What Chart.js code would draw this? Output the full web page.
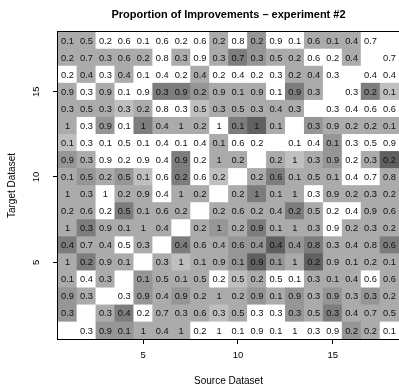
<!DOCTYPE html>
<html>
<head>
<meta charset="utf-8">
<script src="https://cdn.jsdelivr.net/npm/chart.js@4/dist/chart.umd.min.js"></script>
<style>
  html, body { margin: 0; padding: 0; background: #ffffff; }
  #c { display: block; }
</style>
</head>
<body>
<canvas id="c" width="399" height="390"></canvas>
<script>
// Source datasets along x, target datasets along y
const sourceLabels = ['1','2','3','4','5','6','7','8','9','10','11','12','13','14','15','16','17','18'];
const xTickLabels = ['5', '10', '15'];
const yTickValues = [5, 10, 15];
const yTickLabels = ['5', '10', '15'];

// Proportion of improvements, one array per target dataset (sources 1..18); null = same dataset
const target01 = [null,0.3,0.9,0.1,1,0.4,1,0.2,1,0.1,0.9,0.1,1,0.3,0.9,0.2,0.2,0.1];
const target02 = [0.3,null,0.3,0.4,0.2,0.7,0.3,0.6,0.3,0.5,0.3,0.3,0.3,0.5,0.3,0.4,0.7,0.5];
const target03 = [0.9,0.3,null,0.3,0.9,0.4,0.9,0.2,1,0.2,0.9,0.1,0.9,0.3,0.9,0.3,0.3,0.2];
const target04 = [0.1,0.4,0.3,null,0.1,0.5,0.1,0.5,0.2,0.5,0.2,0.5,0.1,0.3,0.1,0.4,0.6,0.6];
const target05 = [1,0.2,0.9,0.1,null,0.3,1,0.1,0.9,0.1,0.9,0.1,1,0.2,0.9,0.1,0.2,0.1];
const target06 = [0.4,0.7,0.4,0.5,0.3,null,0.4,0.6,0.4,0.6,0.4,0.4,0.4,0.8,0.3,0.4,0.8,0.6];
const target07 = [1,0.3,0.9,0.1,1,0.4,null,0.2,1,0.2,0.9,0.1,1,0.3,0.9,0.2,0.3,0.2];
const target08 = [0.2,0.6,0.2,0.5,0.1,0.6,0.2,null,0.2,0.6,0.2,0.4,0.2,0.5,0.2,0.4,0.9,0.6];
const target09 = [1,0.3,1,0.2,0.9,0.4,1,0.2,null,0.2,1,0.1,1,0.3,0.9,0.2,0.3,0.2];
const target10 = [0.1,0.5,0.2,0.5,0.1,0.6,0.2,0.6,0.2,null,0.2,0.6,0.1,0.5,0.1,0.4,0.7,0.8];
const target11 = [0.9,0.3,0.9,0.2,0.9,0.4,0.9,0.2,1,0.2,null,0.2,1,0.3,0.9,0.2,0.3,0.2];
const target12 = [0.1,0.3,0.1,0.5,0.1,0.4,0.1,0.4,0.1,0.6,0.2,null,0.1,0.4,0.1,0.3,0.5,0.9];
const target13 = [1,0.3,0.9,0.1,1,0.4,1,0.2,1,0.1,1,0.1,null,0.3,0.9,0.2,0.2,0.1];
const target14 = [0.3,0.5,0.3,0.3,0.2,0.8,0.3,0.5,0.3,0.5,0.3,0.4,0.3,null,0.3,0.4,0.6,0.6];
const target15 = [0.9,0.3,0.9,0.1,0.9,0.3,0.9,0.2,0.9,0.1,0.9,0.1,0.9,0.3,null,0.3,0.2,0.1];
const target16 = [0.2,0.4,0.3,0.4,0.1,0.4,0.2,0.4,0.2,0.4,0.2,0.3,0.2,0.4,0.3,null,0.4,0.4];
const target17 = [0.2,0.7,0.3,0.6,0.2,0.8,0.3,0.9,0.3,0.7,0.3,0.5,0.2,0.6,0.2,0.4,null,0.7];
const target18 = [0.1,0.5,0.2,0.6,0.1,0.6,0.2,0.6,0.2,0.8,0.2,0.9,0.1,0.6,0.1,0.4,0.7,null];

// Cell shading level per target dataset (0 = white ... 5 = darkest grey)
const shade01 = [0,0,3,3,2,2,2,0,0,0,0,0,0,0,0,3,2,0];
const shade02 = [3,0,2,4,0,2,2,2,1,2,0,0,3,2,4,2,2,2];
const shade03 = [3,2,0,0,3,2,3,2,2,2,3,2,3,2,3,2,3,2];
const shade04 = [2,0,2,0,3,2,2,2,0,1,2,0,0,2,2,2,0,2];
const shade05 = [2,4,2,2,0,2,1,2,2,3,5,3,2,5,2,2,2,2];
const shade06 = [4,2,2,0,2,0,4,2,2,3,3,5,3,4,2,2,2,4];
const shade07 = [2,4,2,2,2,2,0,2,3,2,4,2,2,2,0,2,2,2];
const shade08 = [2,2,0,4,2,2,2,0,2,2,2,2,4,2,0,0,2,2];
const shade09 = [2,2,0,2,2,0,2,2,0,2,4,2,2,0,2,2,2,2];
const shade10 = [2,3,2,3,1,0,4,0,1,0,2,4,2,2,2,0,0,2];
const shade11 = [3,2,0,0,0,0,4,0,2,2,0,2,1,2,3,0,2,5];
const shade12 = [1,0,0,0,0,0,0,0,2,0,0,0,0,0,3,0,0,0];
const shade13 = [2,0,3,0,4,2,2,2,0,4,5,2,0,3,2,2,2,2];
const shade14 = [2,2,2,1,2,0,0,1,2,2,2,2,2,0,0,0,0,0];
const shade15 = [2,0,2,0,0,4,4,3,2,2,2,0,4,2,0,0,4,1];
const shade16 = [0,2,0,2,0,0,0,2,0,0,0,0,2,2,0,0,0,0];
const shade17 = [2,2,2,2,2,0,2,0,2,4,3,2,2,0,0,2,0,0];
const shade18 = [2,2,0,0,0,0,0,0,2,0,3,0,0,2,2,2,0,0];

const greyLevels = ['#ffffff', '#bfbfbf', '#ababab', '#969696', '#7d7d7d', '#606060'];

const targets = [target01, target02, target03, target04, target05, target06, target07, target08, target09,
                 target10, target11, target12, target13, target14, target15, target16, target17, target18];
const shades = [shade01, shade02, shade03, shade04, shade05, shade06, shade07, shade08, shade09,
                shade10, shade11, shade12, shade13, shade14, shade15, shade16, shade17, shade18];

const FONT = '"Liberation Sans", Arial, Helvetica, sans-serif';

// One floating-bar dataset per target row; each bar spans one unit around the target index
const datasets = targets.map((row, i) => ({
  label: 'Target ' + (i + 1),
  data: row.map(() => [i + 0.5, i + 1.5]),
  cellValues: row,
  backgroundColor: shades[i].map(s => greyLevels[s]),
  borderWidth: 0,
  grouped: false,
  barPercentage: 1,
  categoryPercentage: 1
}));

// Writes each proportion in the middle of its cell
const cellText = {
  id: 'cellText',
  afterDatasetsDraw(chart) {
    const ctx = chart.ctx;
    ctx.save();
    ctx.font = '9.3px ' + FONT;
    ctx.fillStyle = '#111111';
    ctx.textAlign = 'center';
    ctx.textBaseline = 'middle';
    chart.data.datasets.forEach((ds, di) => {
      const meta = chart.getDatasetMeta(di);
      meta.data.forEach((bar, j) => {
        const v = ds.cellValues[j];
        if (v === null || v === undefined) return;
        ctx.fillText(String(v), bar.x, (bar.y + bar.base) / 2 + 0.5);
      });
    });
    ctx.restore();
  }
};

// Box round the plot region and the vertical tick labels of the target axis
const frameAndYLabels = {
  id: 'frameAndYLabels',
  afterDraw(chart) {
    const ctx = chart.ctx;
    const {left, top, right, bottom} = chart.chartArea;
    ctx.save();
    ctx.strokeStyle = '#000000';
    ctx.lineWidth = 1;
    ctx.strokeRect(left - 0.5, top - 0.5, right - left + 1, bottom - top + 1);
    const ys = chart.scales.y;
    ctx.font = '9.5px ' + FONT;
    ctx.fillStyle = '#000000';
    ctx.textAlign = 'center';
    ctx.textBaseline = 'middle';
    yTickValues.forEach((v, k) => {
      const py = ys.getPixelForValue(v);
      ctx.save();
      ctx.translate(left - 22, py);
      ctx.rotate(-Math.PI / 2);
      ctx.fillText(yTickLabels[k], 0, 0);
      ctx.restore();
    });
    ctx.restore();
  }
};

new Chart(document.getElementById('c'), {
  type: 'bar',
  data: { labels: sourceLabels, datasets },
  options: {
    responsive: false,
    animation: false,
    events: [],
    layout: { padding: { left: 0, right: 0, top: 0, bottom: 0 } },
    plugins: {
      legend: { display: false },
      tooltip: { enabled: false },
      title: {
        display: true,
        text: 'Proportion of Improvements \u2013 experiment #2',
        fullSize: false,
        color: '#000000',
        font: { family: FONT, size: 11, weight: 'bold' },
        padding: { top: 8.4, bottom: 10.4 }
      }
    },
    scales: {
      x: {
        type: 'category',
        offset: true,
        grid: {
          display: true,
          drawOnChartArea: false,
          drawTicks: true,
          tickLength: 5,
          offset: false,
          tickColor: ctx => xTickLabels.includes(sourceLabels[ctx.index]) ? '#000000' : 'rgba(0,0,0,0)'
        },
        border: { display: false },
        ticks: {
          autoSkip: false,
          maxRotation: 0,
          minRotation: 0,
          padding: 6,
          color: '#000000',
          font: { family: FONT, size: 9.5 },
          callback: (v, i) => xTickLabels.includes(sourceLabels[i]) ? sourceLabels[i] : ''
        },
        title: {
          display: true,
          text: 'Source Dataset',
          color: '#000000',
          font: { family: FONT, size: 10 },
          padding: { top: 0, bottom: 3 }
        },
        afterFit: s => { s.height = 51; }
      },
      y: {
        type: 'linear',
        min: 0.5,
        max: 18.5,
        afterBuildTicks: s => { s.ticks = yTickValues.map(v => ({ value: v })); },
        grid: {
          display: true,
          drawOnChartArea: false,
          drawTicks: true,
          tickLength: 5,
          tickColor: '#000000'
        },
        border: { display: false },
        ticks: { display: false },
        title: {
          display: true,
          text: 'Target Dataset',
          color: '#000000',
          font: { family: FONT, size: 10 },
          padding: { top: 6, bottom: 0 }
        },
        afterFit: s => { s.width = 58; }
      }
    }
  },
  plugins: [cellText, frameAndYLabels]
});
</script>
</body>
</html>
